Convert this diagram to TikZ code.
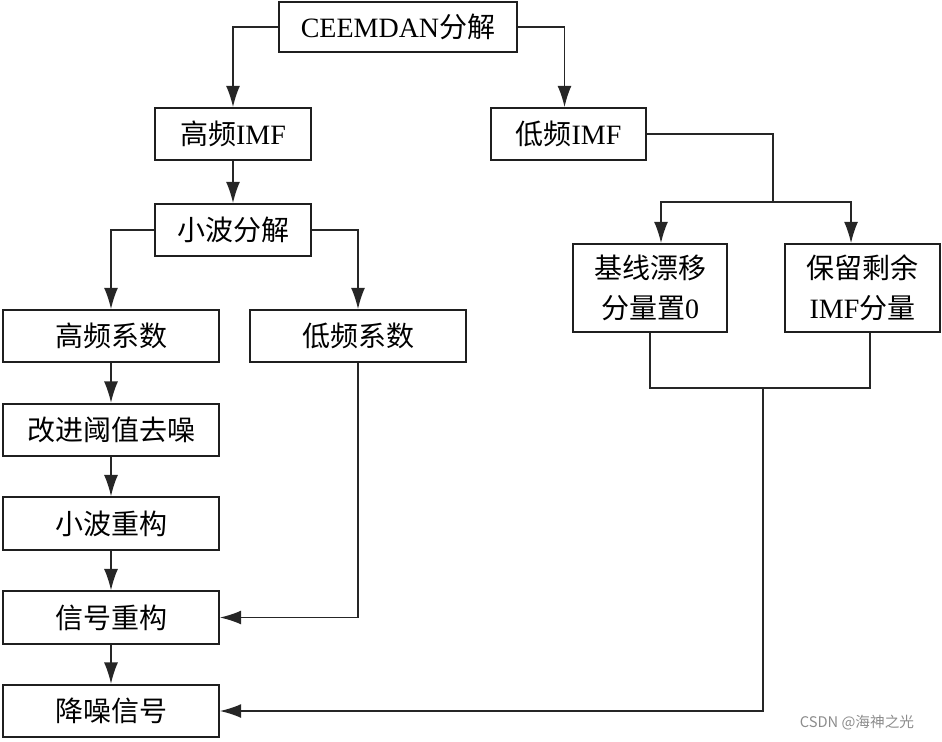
\documentclass[tikz,border=0pt]{standalone}
\usepackage{fontspec}
\setmainfont{Liberation Serif}
\newfontfamily\cjk{Noto Sans CJK SC}
\usetikzlibrary{arrows.meta}
\usetikzlibrary{calc, positioning}

\tikzset{
	box/.style={draw=black!88, line width=1.3pt, rectangle, align=center, inner sep=0pt,
		font=\fontsize{21pt}{30pt}\selectfont},
	line/.style={draw=black!85, line width=1.1pt}
}

\begin{document}
\begin{tikzpicture}[x=0.75pt, y=-0.75pt, >={Latex[length=16pt,width=10.5pt]}]
			\useasboundingbox (0,0) rectangle (942,742);
			% boxes
			\node [box, minimum width=178.5pt, minimum height=37.5pt] (0) at (398, 27) {CEEMDAN{\cjk 分解}};
			\node [box, minimum width=117pt, minimum height=39pt] (1) at (233, 134) {{\cjk 高频}IMF};
			\node [box, minimum width=116pt, minimum height=39pt] (2) at (568.5, 134) {{\cjk 低频}IMF};
			\node [box, minimum width=117pt, minimum height=39pt] (3) at (233, 230) {\cjk 小波分解};
			\node [box, minimum width=115.5pt, minimum height=66pt] (4) at (650, 288) {{\cjk 基线漂移}\\{\cjk 分量置}0};
			\node [box, minimum width=116pt, minimum height=66pt] (5) at (862.5, 288) {{\cjk 保留剩余}\\IMF{\cjk 分量}};
			\node [box, minimum width=162pt, minimum height=39pt] (6) at (111, 336) {\cjk 高频系数};
			\node [box, minimum width=162pt, minimum height=39pt] (7) at (358, 336) {\cjk 低频系数};
			\node [box, minimum width=162pt, minimum height=39.5pt] (8) at (111, 430) {\cjk 改进阈值去噪};
			\node [box, minimum width=162pt, minimum height=39.5pt] (9) at (111, 523.5) {\cjk 小波重构};
			\node [box, minimum width=162pt, minimum height=39.5pt] (10) at (111, 617.5) {\cjk 信号重构};
			\node [box, minimum width=162pt, minimum height=39.5pt] (11) at (111, 711) {\cjk 降噪信号};
			\node [text=black!45, font=\cjk\fontsize{11pt}{13pt}\selectfont] (12) at (857, 723) {CSDN @海神之光};
			\coordinate (s) at (773, 202);
			\coordinate (m) at (763, 388);
			% connectors
			\draw [line, ->] (0.west) -| (1.north);
			\draw [line, ->] (0.east) -| ([xshift=-3pt]2.north);
			\draw [line] (2.east) -| (s);
			\draw [line, ->] (s) -| ([xshift=8.25pt]4.north);
			\draw [line, ->] (s) -| ([xshift=-8.6pt]5.north);
			\draw [line] (4.south) |- ([xshift=5.6pt]5.south |- m) -- ([xshift=5.6pt]5.south);
			\draw [line, ->] (m) |- (11.east);
			\draw [line, ->] (1) to (3);
			\draw [line, ->] (3.west) -| (6.north);
			\draw [line, ->] (3.east) -| (7.north);
			\draw [line, ->] (6) to (8);
			\draw [line, ->] (8) to (9);
			\draw [line, ->] (9) to (10);
			\draw [line, ->] (10) to (11);
			\draw [line, ->] (7.south) |- (10.east);
\end{tikzpicture}
\end{document}
